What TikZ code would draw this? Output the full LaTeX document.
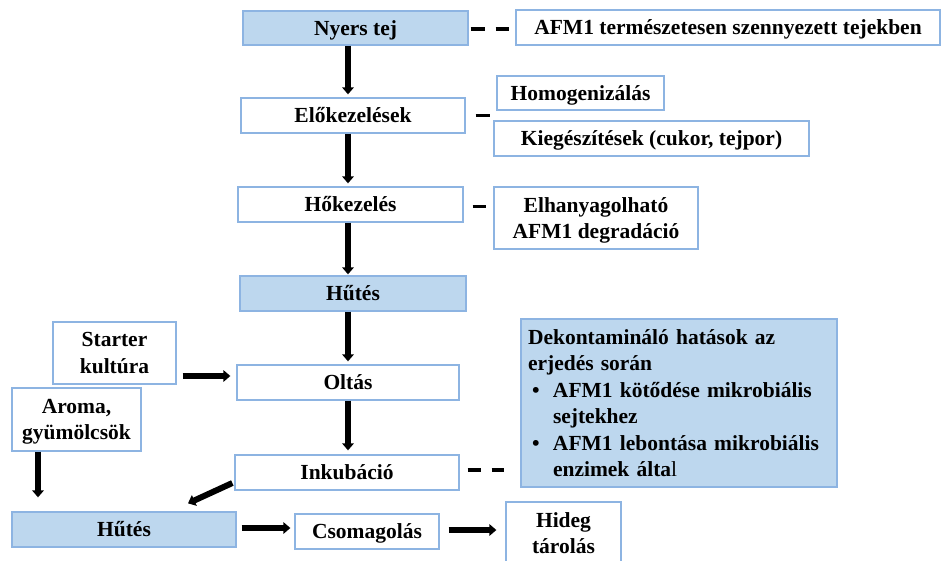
\documentclass[tikz,border=0pt]{standalone}
\usepackage{fontspec}
\setmainfont{Liberation Serif}
\usetikzlibrary{arrows.meta,calc}
\definecolor{boxline}{RGB}{141,180,226}
\definecolor{boxfill}{RGB}{189,215,238}
\begin{document}
\begin{tikzpicture}[x=1pt,y=-1pt,
  every node/.style={font=\fontsize{21.5}{26.5}\selectfont\bfseries},
  stage/.style={draw=boxline, line width=1.3pt, fill=white, inner sep=0pt, align=center},
  keystage/.style={stage, fill=boxfill},
  oneline/.style={text height=14.5pt, text depth=0pt},
  flow/.style={line width=6pt, -{Triangle[width=11.5pt,length=7pt]}},
  link/.style={line width=3.6pt, dash pattern=on 14pt off 11pt},
]
\useasboundingbox (0,0) rectangle (941,560);

% main process column
\node[keystage, oneline, minimum width=225pt, minimum height=34pt] (raw)  at (355.5,28)  {Nyers tej};
\node[stage,    oneline, minimum width=224pt, minimum height=35pt] (pre)  at (353,115.5) {Előkezelések};
\node[stage,    oneline, minimum width=225pt, minimum height=35pt] (heat) at (350.5,204.5) {Hőkezelés};
\node[keystage, oneline, minimum width=226pt, minimum height=35pt] (cool) at (353,293.5) {Hűtés};
\node[stage,    oneline, minimum width=222pt, minimum height=35pt] (inoc) at (348,382.5) {Oltás};
\node[stage,    oneline, minimum width=224pt, minimum height=35pt] (inku) at (347,472.5) {Inkubáció};

% side notes
\node[stage, oneline, minimum width=424pt, minimum height=35pt] (afm)  at (728,27.5) {AFM1 természetesen szennyezett tejekben};
\node[stage, oneline, minimum width=167pt, minimum height=34pt] (homo) at (580.5,93) {Homogenizálás};
\node[stage, oneline, minimum width=315pt, minimum height=35pt] (kieg) at (651.5,138.5) {Kiegészítések (cukor, tejpor)};
\node[stage, minimum width=204pt, minimum height=62pt] (elh)  at (596,218) {Elhanyagolható\\\smash{AFM1 degradáció}};
\node[keystage, minimum width=316pt, minimum height=168pt, text width=302pt, align=left] (deko) at (679,403)
  {Dekontamináló hatások az\\
   erjedés során\\
   \makebox[25pt][l]{\hspace{4pt}\textbullet}AFM1 kötődése mikrobiális\\
   \hspace*{25pt}sejtekhez\\
   \makebox[25pt][l]{\hspace{4pt}\textbullet}AFM1 lebontása mikrobiális\\
   \hspace*{25pt}enzimek álta{\mdseries l}};

% inputs and final steps
\node[stage, minimum width=123pt, minimum height=62pt] (starter) at (114.5,353) {Starter\\kultúra};
\node[stage, minimum width=129pt, minimum height=63pt] (aroma)   at (76.5,419.5) {Aroma,\\\smash{gyümölcsök}};
\node[keystage, oneline, minimum width=224pt, minimum height=35pt] (cool2) at (124,529.5) {Hűtés};
\node[stage, oneline, minimum width=144pt, minimum height=35pt] (pack)  at (367,531.5) {Csomagolás};
\node[stage, minimum width=115pt, minimum height=62pt] (store) at (563.5,533) {Hideg\\tárolás};

% process arrows
\coordinate (spine) at (348,0);
\draw[flow, shorten >=3pt] (raw.south -| spine)  -- (pre.north -| spine);
\draw[flow, shorten >=3pt] (pre.south -| spine)  -- (heat.north -| spine);
\draw[flow, shorten >=1pt] (heat.south -| spine) -- (cool.north -| spine);
\draw[flow, shorten >=3pt] (cool.south -| spine) -- (inoc.north -| spine);
\draw[flow, shorten >=4pt] (inoc.south -| spine) -- (inku.north -| spine);
\draw[flow] ($(starter.east)+(6,23)$) -- ($(starter.east -| inoc.west)+(-6,23)$);
\draw[flow] ($(aroma.south)+(-38.5,0)$) -- ($(cool2.north)+(-86,-14)$);
\draw[flow] ($(inku.west)+(-2,10.5)$) -- ($(cool2.north)+(64,-8)$);
\draw[flow] ($(cool2.east)+(5,-1.5)$) -- ($(cool2.east -| pack.west)+(-4,-1.5)$);
\draw[flow] ($(pack.east)+(9,-1.5)$) -- ($(pack.east -| store.west)+(-9,-1.5)$);

% links to notes
\draw[link] ($(raw.east)+(2,1)$) -- ($(raw.east -| afm.west)+(-6,1)$);
\draw[link] ($(pre.east)+(10,0)$) -- ($(pre.east)+(27,0)$);
\draw[link] ($(heat.east)+(9,2)$) -- ($(heat.east)+(22,2)$);
\draw[link, dash pattern=on 13pt off 11pt] ($(inku.east)+(8,-2.5)$) -- ($(inku.east -| deko.west)+(-16,-2.5)$);
\end{tikzpicture}
\end{document}
